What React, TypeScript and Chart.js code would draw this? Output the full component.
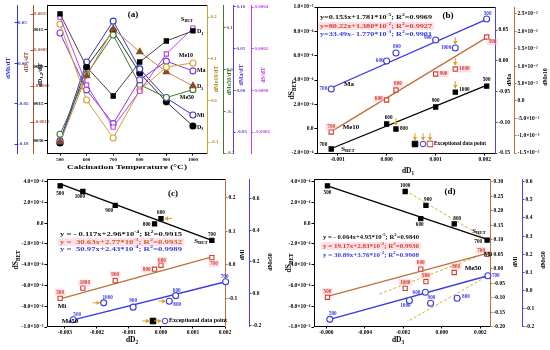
import React, { useEffect, useRef } from "react";
import { Chart, registerables } from "chart.js";
Chart.register(...registerables);

const FONT = "'Liberation Serif', 'DejaVu Serif', serif";

// ---------------- data ----------------
const TEMPS = [500, 600, 700, 800, 900, 1000];

// (a) derivatives vs calcination temperature
const A_SBET = [0.000352, 0.000026, -0.000176, -0.0000029, 0.000175, 0.000299];
const A_D1 = [0.00215, 0.0, -0.00118, 0.0002, 0.00105, 0.00146];
const A_D2 = [-0.00304, -0.000365, 0.00154, 0.00061, -0.0002, -0.00077];
const A_D3 = [-0.00208, 0.000028, 0.00103, -0.00014, -0.00094, -0.00161];
const A_MI = [-0.096, 0.0016, 0.052, -0.007, -0.043, -0.064];
const A_MA = [0.0688, 0.0005, -0.04, 0.0125, 0.035, 0.0233];
const A_ME10 = [0.183, 0.001, -0.09, 0.025, 0.08, 0.09];
const A_ME50 = [-0.155, -0.012, 0.083, -0.036, -0.067, -0.048];

// (b) vs dD1
const B_DD1 = [0.00204, 0.0, -0.00113, 0.00019, 0.001, 0.0014];
const B_SBET = [0.00035, 0.000038, -0.000167, -0.000003, 0.000178, 0.0003];
const B_MA = [0.0679, -0.0004, -0.046, 0.0126, 0.0337, 0.0207];
const B_ME10 = [0.01838, 0.00025, -0.00896, 0.00313, 0.00773, 0.00917];
const B_FIT_X = [-0.00115, 0.00206];
const B_FIT_SBET = [-0.000167, 0.00036];
const B_FIT_MA = [-0.0447, 0.068];
const B_FIT_ME10 = [-0.009, 0.0184];

// (c) vs dD2
const C_DD2 = [-0.00315, 0.0, 0.00159, -0.0002, -0.00143, -0.00244];
const C_SBET = [0.000359, 0.000044, -0.000166, -0.000007, 0.000171, 0.000305];
const C_MI = [-0.0995, -0.001, 0.0217, -0.0128, -0.047, -0.069];
const C_DD2_ME50 = [-0.00274, 0.00046, 0.00202, 0.00026, -0.00087, -0.00179];
const C_ME50 = [-0.165, -0.0125, 0.075, -0.048, -0.085, -0.058];
const C_FIT_X = [-0.00315, 0.00159];
const C_FIT_SBET = [0.000378, -0.000166];
const C_FIT_MI = [-0.1015, 0.0236];
const C_FIT_ME50_X = [-0.00274, 0.00202];
const C_FIT_ME50 = [-0.165, 0.075];

// (d) vs dD3
const D_DD3 = [-0.00594, -0.00109, 0.00236, 0.00065, -0.00082, -0.0019];
const D_SBET = [0.000359, 0.000044, -0.000163, -0.000007, 0.000171, 0.000305];
const D_MI = [-0.0977, -0.001, 0.05, -0.0125, -0.044, -0.067];
const D_DD3_ME50 = [-0.00582, -0.00085, 0.0024, 0.0008, -0.00058, -0.00168];
const D_ME50 = [-0.158, -0.009, 0.082, -0.042, -0.069, -0.0545];
const D_FIT_X = [-0.00594, 0.00236];
const D_FIT_SBET = [0.000359, -0.000157];
const D_FIT_MI = [-0.0943, 0.0534];
const D_FIT_ME50_X = [-0.00582, 0.0024];
const D_FIT_ME50 = [-0.158, 0.082];
const D_DASH_SBET_X = [-0.0019, 0.00236];
const D_DASH_SBET = [0.000314, -0.000157];
const D_DASH_MI_X = [-0.00324, 0.00227];
const D_DASH_MI = [-0.0864, 0.0534];
const D_DASH_ME50_X = [-0.00168, 0.0024];
const D_DASH_ME50 = [-0.1636, 0.0818];

// ---------------- helpers ----------------
const SUP: Record<string, string> = { "-": "⁻", "0": "⁰", "1": "¹", "2": "²", "3": "³", "4": "⁴", "5": "⁵", "6": "⁶", "7": "⁷", "8": "⁸", "9": "⁹" };
function sci(v: number) {
  if (Math.abs(v) < 1e-12) return "0.0";
  const e = Math.floor(Math.log10(Math.abs(v)) + 1e-9);
  const m = v / Math.pow(10, e);
  return m.toFixed(1) + "×10" + String(e).split("").map((c) => SUP[c]).join("");
}
const f = (n: number) => (v: number) => (Math.abs(v) < 1e-12 ? 0 : v).toFixed(n);

function parseRich(s: string) {
  const segs: { t: string; m: number }[] = [];
  let i = 0, buf = "";
  while (i < s.length) {
    const c = s[i];
    if ((c === "_" || c === "^") && s[i + 1] === "{") {
      if (buf) { segs.push({ t: buf, m: 0 }); buf = ""; }
      const j = s.indexOf("}", i);
      segs.push({ t: s.slice(i + 2, j), m: c === "_" ? 1 : 2 });
      i = j + 1;
    } else { buf += c; i++; }
  }
  if (buf) segs.push({ t: buf, m: 0 });
  return segs;
}

function drawRich(ctx: CanvasRenderingContext2D, s: string, x: number, y: number, o: any) {
  const size = o.size || 6;
  const segs = parseRich(s);
  const font = (sz: number) => `${o.normal ? "" : "bold "}${sz}px ${FONT}`;
  let total = 0;
  const ws = segs.map((sg) => { ctx.font = font(sg.m ? size * 0.7 : size); const w = ctx.measureText(sg.t).width; total += w; return w; });
  ctx.save();
  ctx.translate(x, y);
  if (o.rot) ctx.rotate((o.rot * Math.PI) / 180);
  if (o.w) ctx.scale(o.w / total, 1);
  const align = o.align || "center";
  let cx = align === "left" ? 0 : align === "right" ? -total : -total / 2;
  if (o.bg) { ctx.fillStyle = o.bg; ctx.fillRect(cx - 1.5, -size * 0.65, total + 3, size * 1.3); }
  ctx.fillStyle = o.color || "#000";
  ctx.textBaseline = "middle";
  ctx.textAlign = "left";
  segs.forEach((sg, i) => {
    ctx.font = font(sg.m ? size * 0.7 : size);
    const dy = sg.m === 1 ? size * 0.3 : sg.m === 2 ? -size * 0.35 : 0;
    ctx.fillText(sg.t, cx, dy);
    cx += ws[i];
  });
  ctx.restore();
}

function drawArrow(ctx: CanvasRenderingContext2D, px: number, py: number, dir: string, color: string) {
  const len = 7, gap = 4, hs = 2.2;
  let sx = px, sy = py, ex = px, ey = py;
  if (dir === "down") { sy = py - gap - len; ey = py - gap; }
  if (dir === "left") { sx = px + gap + len; ex = px + gap; }
  if (dir === "right") { sx = px - gap - len; ex = px - gap; }
  ctx.save();
  ctx.strokeStyle = color; ctx.fillStyle = color; ctx.lineWidth = 1;
  ctx.beginPath(); ctx.moveTo(sx, sy); ctx.lineTo(ex, ey); ctx.stroke();
  ctx.beginPath();
  if (dir === "down") { ctx.moveTo(ex - hs, ey - hs * 1.4); ctx.lineTo(ex + hs, ey - hs * 1.4); ctx.lineTo(ex, ey + 0.5); }
  if (dir === "left") { ctx.moveTo(ex + hs * 1.4, ey - hs); ctx.lineTo(ex + hs * 1.4, ey + hs); ctx.lineTo(ex - 0.5, ey); }
  if (dir === "right") { ctx.moveTo(ex - hs * 1.4, ey - hs); ctx.lineTo(ex - hs * 1.4, ey + hs); ctx.lineTo(ex + 0.5, ey); }
  ctx.closePath(); ctx.fill();
  ctx.restore();
}

function drawMarker(ctx: CanvasRenderingContext2D, shape: string, x: number, y: number, color: string) {
  const r = 2.8;
  ctx.save();
  ctx.lineWidth = 1; ctx.strokeStyle = color; ctx.fillStyle = shape === "fsq" ? color : "#fff";
  ctx.beginPath();
  if (shape === "circ") ctx.arc(x, y, r, 0, Math.PI * 2);
  else ctx.rect(x - r, y - r, 2 * r, 2 * r);
  ctx.fill(); ctx.stroke();
  ctx.restore();
}

type Ax = { id: string; side: "left" | "right"; width: number; min: number; max: number; ticks: number[]; fmt: (v: number) => string; color: string; labelColor?: string; mirror?: boolean };

function axisCfg(a: Ax, weight: number, tickFont: number) {
  return {
    type: "linear", position: a.side, min: a.min, max: a.max, weight,
    afterFit: (s: any) => { s.width = a.width; },
    afterBuildTicks: (s: any) => { s.ticks = a.ticks.map((v) => ({ value: v })); },
    border: { display: true, color: a.color, width: 1 },
    grid: { display: true, drawOnChartArea: false, drawTicks: true, tickLength: 2.5, color: a.color, lineWidth: 1 },
    ticks: { color: a.labelColor || "#000", font: { family: FONT, size: tickFont, weight: "bold" }, padding: 1, mirror: !!a.mirror, autoSkip: false, callback: (v: any) => a.fmt(Number(v)) },
    title: { display: false },
  };
}

const pts = (xs: number[], ys: number[]) => xs.map((x, i) => ({ x, y: ys[i] }));
function series(xs: number[], ys: number[], axis: string, color: string, style: string, filled: boolean, showLine: boolean, lineColor?: string) {
  return {
    data: pts(xs, ys), yAxisID: axis, xAxisID: "x", showLine, borderColor: lineColor || color, borderWidth: 1,
    pointStyle: style, pointRadius: style === "triangle" ? 3.6 : 3, pointBackgroundColor: filled ? color : "#fff",
    pointBorderColor: color, pointBorderWidth: 1.1, clip: false,
  };
}
function fitLine(xs: number[], ys: number[], axis: string, color: string, dash?: number[]) {
  return { data: pts(xs, ys), yAxisID: axis, xAxisID: "x", showLine: true, borderColor: color, borderWidth: dash ? 1 : 1.3, borderDash: dash || [], pointRadius: 0, clip: false };
}
function labels(xs: number[], ys: number[], axis: string, color: string, offs: any[], bg?: string) {
  return TEMPS.map((t, i) => ({ x: xs[i], y: ys[i], axis, s: String(t), dx: offs[i][0], dy: offs[i][1], align: offs[i][2] || "center", color, size: 5.2, bg }));
}

type Spec = { area: { l: number; r: number; t: number; b: number }; tickFont: number; x: { min: number; max: number; ticks: number[]; fmt: (v: number) => string }; axes: Ax[]; datasets: any[]; texts: any[]; anchored: any[]; arrows: any[]; legend?: any };

function makeChart(canvas: HTMLCanvasElement, spec: Spec) {
  const H = 175;
  const scales: any = {
    x: {
      type: "linear", position: "bottom", min: spec.x.min, max: spec.x.max,
      afterFit: (s: any) => { s.height = H - spec.area.b; },
      afterBuildTicks: (s: any) => { s.ticks = spec.x.ticks.map((v) => ({ value: v })); },
      border: { display: true, color: "#000", width: 1 },
      grid: { display: true, drawOnChartArea: false, drawTicks: true, tickLength: 2.5, color: "#000" },
      ticks: { color: "#000", font: { family: FONT, size: spec.tickFont, weight: "bold" }, padding: 1, maxRotation: 0, autoSkip: false, callback: (v: any) => spec.x.fmt(Number(v)) },
    },
  };
  const lefts = spec.axes.filter((a) => a.side === "left");
  const rights = spec.axes.filter((a) => a.side === "right");
  lefts.forEach((a, i) => { scales[a.id] = axisCfg(a, lefts.length - i, spec.tickFont); });
  rights.forEach((a, i) => { scales[a.id] = axisCfg(a, i, spec.tickFont); });

  const overlay = {
    id: "overlay",
    afterDraw(chart: any) {
      const ctx: CanvasRenderingContext2D = chart.ctx;
      const ca = chart.chartArea;
      ctx.save();
      ctx.strokeStyle = "#000"; ctx.lineWidth = 1;
      ctx.beginPath(); ctx.moveTo(ca.left, Math.round(ca.top) + 0.5); ctx.lineTo(ca.right, Math.round(ca.top) + 0.5); ctx.stroke();
      ctx.restore();
      spec.anchored.forEach((a) => {
        const px = chart.scales.x.getPixelForValue(a.x);
        const py = chart.scales[a.axis].getPixelForValue(a.y);
        drawRich(ctx, a.s, px + a.dx, py + a.dy, a);
      });
      spec.arrows.forEach((a) => {
        const px = chart.scales.x.getPixelForValue(a.x);
        const py = chart.scales[a.axis].getPixelForValue(a.y);
        drawArrow(ctx, px, py, a.dir, "#e0a020");
      });
      if (spec.legend) {
        const L = spec.legend;
        L.markers.forEach((m: any) => { drawMarker(ctx, m.shape, m.x, L.y, m.color); drawArrow(ctx, m.x, L.y, m.arrow, "#e0a020"); });
        drawRich(ctx, L.text, L.tx, L.y, { size: 5.5, align: "left", w: L.tw });
      }
      spec.texts.forEach((t) => drawRich(ctx, t.s, t.x, t.y, t));
    },
  };

  return new Chart(canvas, {
    type: "scatter",
    data: { datasets: spec.datasets },
    options: {
      responsive: false, maintainAspectRatio: false, animation: false, devicePixelRatio: 1,
      layout: { padding: { left: 0, right: 0, top: spec.area.t, bottom: 0 }, autoPadding: false },
      plugins: { legend: { display: false }, tooltip: { enabled: false } },
      events: [],
      scales,
    } as any,
    plugins: [overlay],
  });
}

// ---------------- specs ----------------
const C_BLUE = "#3a3ae0";
const C_RED = "#d0402a";
const C_BROWN = "#c0703a";
const PINK = "rgba(255,185,205,0.45)";

const specA: Spec = {
  area: { l: 47, r: 207, t: 5, b: 153 }, tickFont: 5,
  x: { min: 451, max: 1053, ticks: TEMPS, fmt: (v) => String(v) },
  axes: [
    { id: "yMi", side: "left", width: 17, min: -0.111, max: 0.072, ticks: [0.05, 0, -0.05, -0.1], fmt: f(2), color: "#3535c8", labelColor: "#3535c8", mirror: true },
    { id: "yD3", side: "left", width: 16, min: -0.00236, max: 0.00175, ticks: [0.0015, 0.0005, -0.0005, -0.0015], fmt: f(4), color: "#a0522d", labelColor: "#a0522d", mirror: true },
    { id: "y", side: "left", width: 14, min: -0.00349, max: 0.00251, ticks: [0.0015, 0, -0.0015, -0.003], fmt: f(4), color: "#000" },
    { id: "yMe10", side: "right", width: 16, min: -0.126, max: 0.229, ticks: [0.2, 0.1, 0, -0.1], fmt: f(1), color: "#c9a23a", labelColor: "#b08a2a" },
    { id: "yMe50", side: "right", width: 10, min: -0.2, max: 0.155, ticks: [0.1, 0, -0.1, -0.2], fmt: f(1), color: "#3c7a32", labelColor: "#3c7a32" },
    { id: "yMa", side: "right", width: 18, min: -0.0752, max: 0.1024, ticks: [0.1, 0.05, 0, -0.05], fmt: f(2), color: "#5a3ce0", labelColor: "#5a3ce0" },
    { id: "yS", side: "right", width: 24, min: -0.0003, max: 0.00041, ticks: [0.0004, 0.0002, 0, -0.0002], fmt: f(4), color: "#c040e8", labelColor: "#c040e8" },
  ],
  datasets: [
    series(TEMPS, A_D1, "y", "#000", "rect", true, true, "#444"),
    series(TEMPS, A_SBET, "yS", "#c040e8", "rect", false, true),
    series(TEMPS, A_ME10, "yMe10", "#d4a030", "circle", false, true),
    series(TEMPS, A_MA, "yMa", "#7a3ee0", "circle", false, true),
    series(TEMPS, A_D2, "y", "#8b4a1f", "triangle", true, true, "#c8884a"),
    series(TEMPS, A_ME50, "yMe50", "#3c7a32", "circle", false, true),
    series(TEMPS, A_MI, "yMi", "#3535d0", "circle", false, true),
    series(TEMPS, A_D3, "yD3", "#000", "circle", true, true, "#333"),
  ],
  texts: [
    { s: "(a)", x: 133, y: 15, size: 9 },
    { s: "dMi/dT", x: 8, y: 68, rot: -90, size: 6.5, color: "#3535c8" },
    { s: "dD_{3}/dT", x: 26, y: 62, rot: -90, size: 6.5, color: "#a0522d" },
    { s: "dD_{1,2}/dT", x: 40, y: 75, rot: -90, size: 6.5 },
    { s: "dMe10/dT", x: 216, y: 79, rot: -90, size: 6, color: "#b08a2a" },
    { s: "dMe50/dT", x: 229, y: 82, rot: -90, size: 6, color: "#3c7a32" },
    { s: "dMa/dT", x: 241, y: 75, rot: -90, size: 6, color: "#5a3ce0" },
    { s: "dS/dT", x: 263, y: 75, rot: -90, size: 6, color: "#c040e8" },
    { s: "Calcination Temperature (°C)", x: 127, y: 167, size: 7, w: 120 },
  ],
  anchored: [
    { x: TEMPS[5], y: A_SBET[5], axis: "yS", s: "S_{BET}", dx: -6, dy: -9, size: 6 },
    { x: TEMPS[5], y: A_D1[5], axis: "y", s: "D_{1}", dx: 4, dy: 1, align: "left", size: 6 },
    { x: TEMPS[5], y: A_ME10[5], axis: "yMe10", s: "Me10", dx: -7, dy: -7, size: 6 },
    { x: TEMPS[5], y: A_MA[5], axis: "yMa", s: "Ma", dx: 4, dy: 0, align: "left", size: 6 },
    { x: TEMPS[5], y: A_D2[5], axis: "y", s: "D_{2}", dx: 4, dy: 1, align: "left", size: 6 },
    { x: TEMPS[5], y: A_ME50[5], axis: "yMe50", s: "Me50", dx: -6, dy: 8, size: 6 },
    { x: TEMPS[5], y: A_MI[5], axis: "yMi", s: "Mi", dx: 4, dy: 0, align: "left", size: 6 },
    { x: TEMPS[5], y: A_D3[5], axis: "yD3", s: "D_{3}", dx: 4, dy: 1, align: "left", size: 6 },
  ],
  arrows: [],
};

const specB: Spec = {
  area: { l: 42, r: 220, t: 7, b: 153 }, tickFont: 5.5,
  x: { min: -0.00142, max: 0.00221, ticks: [-0.001, 0, 0.001, 0.002], fmt: f(3) },
  axes: [
    { id: "y", side: "left", width: 42, min: -0.0002, max: 0.001, ticks: [0.001, 0.0008, 0.0006, 0.0004, 0.0002, 0, -0.0002], fmt: sci, color: "#000" },
    { id: "yMa", side: "right", width: 19, min: -0.15, max: 0.0874, ticks: [0.05, 0, -0.05, -0.1, -0.15], fmt: f(2), color: "#4545e6" },
    { id: "yMe10", side: "right", width: 36, min: -0.015, max: 0.02701, ticks: [0.025, 0.02, 0.015, 0.01, 0.005, 0, -0.005, -0.01, -0.015], fmt: sci, color: C_BROWN },
  ],
  datasets: [
    series(B_DD1, B_SBET, "y", "#000", "rect", true, false),
    series(B_DD1, B_MA, "yMa", C_BLUE, "circle", false, false),
    series(B_DD1, B_ME10, "yMe10", C_RED, "rect", false, false),
    fitLine(B_FIT_X, B_FIT_SBET, "y", "#000"),
    fitLine(B_FIT_X, B_FIT_MA, "yMa", C_BLUE),
    fitLine(B_FIT_X, B_FIT_ME10, "yMe10", C_BROWN),
  ],
  texts: [
    { s: "(b)", x: 173, y: 16, size: 9 },
    { s: "y=0.153x+1.781*10^{-5}; R^{2}=0.9969", x: 45, y: 17, size: 6, align: "left", w: 112, color: "#111" },
    { s: "y=80.22x+1.380*10^{-2}; R^{2}=0.9927", x: 45, y: 26, size: 6, align: "left", w: 112, color: C_RED, bg: PINK },
    { s: "y=33.49x- 1.770*10^{-3}; R^{2}=0.9901", x: 45, y: 34, size: 6, align: "left", w: 112, color: C_BLUE },
    { s: "Ma", x: 74, y: 84, size: 7 },
    { s: "Me10", x: 76, y: 127, size: 7 },
    { s: "S_{BET}", x: 73, y: 149, size: 7 },
    { s: "dS_{BET}", x: 17, y: 90, rot: -90, size: 7.5 },
    { s: "dMa", x: 234, y: 80, rot: -90, size: 6 },
    { s: "dMe10", x: 270, y: 77, rot: -90, size: 6 },
    { s: "dD_{1}", x: 133, y: 171, size: 7.5 },
  ],
  anchored: [
    ...labels(B_DD1, B_MA, "yMa", C_BLUE, [[1, -5], [-3, 0, "right"], [-4, 0, "right"], [1, -6], [-4, -2, "right"], [-4, 0, "right"]]),
    ...labels(B_DD1, B_ME10, "yMe10", C_RED, [[2, 5, "left"], [-4, -1, "right"], [0, -5], [2, -6], [4, 0, "left"], [4, 0, "left"]], PINK),
    ...labels(B_DD1, B_SBET, "y", "#000", [[0, -6], [2, -6], [-4, -4, "right"], [4, 0, "left"], [0, -6], [4, -3, "left"]]),
  ],
  arrows: [
    { x: B_DD1[5], y: B_MA[5], axis: "yMa", dir: "down" },
    { x: B_DD1[5], y: B_ME10[5], axis: "yMe10", dir: "down" },
    { x: B_DD1[5], y: B_SBET[5], axis: "y", dir: "down" },
    { x: B_DD1[3], y: B_SBET[3], axis: "y", dir: "down" },
  ],
  legend: {
    y: 144, tx: 159, tw: 52, text: "Exceptional data point",
    markers: [
      { x: 140, shape: "fsq", color: "#000", arrow: "down" },
      { x: 148, shape: "circ", color: C_BLUE, arrow: "down" },
      { x: 155, shape: "osq", color: C_RED, arrow: "down" },
    ],
  },
};

const specC: Spec = {
  area: { l: 47, r: 225, t: 3, b: 151 }, tickFont: 5.5,
  x: { min: -0.00356, max: 0.002, ticks: [-0.003, -0.002, -0.001, 0, 0.001, 0.002], fmt: f(3) },
  axes: [
    { id: "y", side: "left", width: 47, min: -0.00099, max: 0.000422, ticks: [0.0004, 0.0002, 0, -0.0002, -0.0004, -0.0006, -0.0008, -0.001], fmt: sci, color: "#000" },
    { id: "yMi", side: "right", width: 24, min: -0.182, max: 0.255, ticks: [0.2, 0.1, 0, -0.1], fmt: f(1), color: C_BROWN },
    { id: "yMe50", side: "right", width: 26, min: -0.204, max: 0.721, ticks: [0.6, 0.4, 0.2, 0, -0.2], fmt: f(1), color: "#4545e6" },
  ],
  datasets: [
    series(C_DD2, C_SBET, "y", "#000", "rect", true, false),
    series(C_DD2, C_MI, "yMi", C_RED, "rect", false, false),
    series(C_DD2_ME50, C_ME50, "yMe50", C_BLUE, "circle", false, false),
    fitLine(C_FIT_X, C_FIT_SBET, "y", "#000"),
    fitLine(C_FIT_X, C_FIT_MI, "yMi", C_BROWN),
    fitLine(C_FIT_ME50_X, C_FIT_ME50, "yMe50", C_BLUE),
  ],
  texts: [
    { s: "(c)", x: 173, y: 19, size: 9 },
    { s: "y = - 0.117x+2.96*10^{-4}; R^{2}=0.9915", x: 60, y: 59, size: 6, align: "left", w: 122, color: "#111" },
    { s: "y =  30.63x+2.77*10^{-3}; R^{2}=0.9932", x: 60, y: 67, size: 6, align: "left", w: 122, color: "#c8602a", bg: PINK },
    { s: "y =  50.97x+2.43*10^{-4}; R^{2}=0.9989", x: 60, y: 74, size: 6, align: "left", w: 122, color: C_BLUE },
    { s: "S_{BET}", x: 201, y: 66, size: 7 },
    { s: "Mi", x: 62, y: 131, size: 7 },
    { s: "Me50", x: 70, y: 146, size: 7 },
    { s: "dS_{BET}", x: 16, y: 85, rot: -90, size: 7.5 },
    { s: "dMi", x: 242, y: 80, rot: -90, size: 6 },
    { s: "dMe50", x: 270, y: 87, rot: -90, size: 6 },
    { s: "dD_{2}", x: 132, y: 165, size: 7.5 },
  ],
  anchored: [
    ...labels(C_DD2, C_SBET, "y", "#000", [[0, 8], [0, -6], [0, -6], [-4, 1, "right"], [-6, 5], [-3, 5]]),
    ...labels(C_DD2, C_MI, "yMi", C_RED, [[0, -6], [1, -5], [2, 6], [-4, 0, "right"], [0, -6], [2, -5]], PINK),
    ...labels(C_DD2_ME50, C_ME50, "yMe50", C_BLUE, [[4, -5], [1, -5], [-1, -5], [4, 3, "left"], [0, -6], [4, -5]]),
  ],
  arrows: [
    { x: C_DD2[1], y: C_SBET[1], axis: "y", dir: "left" },
    { x: C_DD2_ME50[5], y: C_ME50[5], axis: "yMe50", dir: "right" },
    { x: C_DD2_ME50[3], y: C_ME50[3], axis: "yMe50", dir: "right" },
  ],
  legend: {
    y: 146, tx: 169, tw: 58, text: "Exceptional data point",
    markers: [
      { x: 153, shape: "fsq", color: "#000", arrow: "right" },
      { x: 165, shape: "circ", color: C_BLUE, arrow: "right" },
    ],
  },
};

const specD: Spec = {
  area: { l: 39, r: 215, t: 3, b: 151 }, tickFont: 5.5,
  x: { min: -0.00664, max: 0.00251, ticks: [-0.006, -0.004, -0.002, 0, 0.002], fmt: f(3) },
  axes: [
    { id: "y", side: "left", width: 39, min: -0.00099, max: 0.000422, ticks: [0.0004, 0.0002, 0, -0.0002, -0.0004, -0.0006, -0.0008, -0.001], fmt: sci, color: "#000" },
    { id: "yMi", side: "right", width: 32, min: -0.1966, max: 0.308, ticks: [0.3, 0.25, 0.2, 0.15, 0.1, 0.05, 0, -0.05, -0.1, -0.15, -0.2], fmt: f(2), color: C_BROWN },
    { id: "yMe50", side: "right", width: 28, min: -0.1945, max: 0.6127, ticks: [0.6, 0.5, 0.4, 0.3, 0.2, 0.1, 0, -0.1, -0.2], fmt: f(1), color: "#4545e6" },
  ],
  datasets: [
    series(D_DD3, D_SBET, "y", "#000", "rect", true, false),
    series(D_DD3, D_MI, "yMi", C_RED, "rect", false, false),
    series(D_DD3_ME50, D_ME50, "yMe50", C_BLUE, "circle", false, false),
    fitLine(D_FIT_X, D_FIT_SBET, "y", "#000"),
    fitLine(D_FIT_X, D_FIT_MI, "yMi", C_BROWN),
    fitLine(D_FIT_ME50_X, D_FIT_ME50, "yMe50", C_BLUE),
    fitLine(D_DASH_SBET_X, D_DASH_SBET, "y", "#d8b030", [3, 2]),
    fitLine(D_DASH_MI_X, D_DASH_MI, "yMi", "#d8b030", [3, 2]),
    fitLine(D_DASH_ME50_X, D_DASH_ME50, "yMe50", "#d8b030", [3, 2]),
  ],
  texts: [
    { s: "(d)", x: 175, y: 17, size: 9 },
    { s: "y = - 0.064x+4.95*10^{-5}; R^{2}=0.9840", x: 48, y: 62, size: 6, align: "left", w: 96, color: "#111" },
    { s: "y = 19.17x+2.83*10^{-2}; R^{2}=0.9930", x: 48, y: 71, size: 6, align: "left", w: 96, color: C_RED, bg: PINK },
    { s: "y = 30.89x+3.76*10^{-2}; R^{2}=0.9908", x: 48, y: 80, size: 6, align: "left", w: 96, color: C_BLUE },
    { s: "S_{BET}", x: 204, y: 56, size: 7 },
    { s: "Mi", x: 213, y: 79, size: 7 },
    { s: "Me50", x: 198, y: 93, size: 7 },
    { s: "dS_{BET}", x: 14, y: 88, rot: -90, size: 7.5 },
    { s: "dMi", x: 240, y: 87, rot: -90, size: 6 },
    { s: "dMe50", x: 268, y: 85, rot: -90, size: 6 },
    { s: "dD_{3}", x: 123, y: 165, size: 7.5 },
  ],
  anchored: [
    ...labels(D_DD3, D_SBET, "y", "#000", [[0, 7], [-1, 6], [-5, 2, "right"], [3, -5], [2, -6], [0, -6]]),
    ...labels(D_DD3, D_MI, "yMi", C_RED, [[0, -6], [0, -6], [-6, -4], [2, -6], [0, -6], [0, -6]], PINK),
    ...labels(D_DD3_ME50, D_ME50, "yMe50", C_BLUE, [[3, -6], [-5, 0, "right"], [4, 0, "left"], [5, -2, "left"], [1, -6], [-4, 5]]),
  ],
  arrows: [],
};

// ---------------- components ----------------
function Panel({ spec, left, top }: { spec: Spec; left: number; top: number }) {
  const ref = useRef<HTMLCanvasElement>(null);
  useEffect(() => {
    const chart = makeChart(ref.current as HTMLCanvasElement, spec);
    return () => chart.destroy();
  }, [spec]);
  return (
    <div style={{ position: "absolute", left, top, width: 275, height: 175 }}>
      <canvas ref={ref} width={275} height={175} style={{ width: 275, height: 175, display: "block" }} />
    </div>
  );
}

export default function App() {
  return (
    <div style={{ position: "fixed", left: 0, top: 0, width: 550, height: 350, background: "#fff", overflow: "hidden" }}>
      <Panel spec={specA} left={0} top={0} />
      <Panel spec={specB} left={275} top={0} />
      <Panel spec={specC} left={0} top={175} />
      <Panel spec={specD} left={275} top={175} />
    </div>
  );
}
